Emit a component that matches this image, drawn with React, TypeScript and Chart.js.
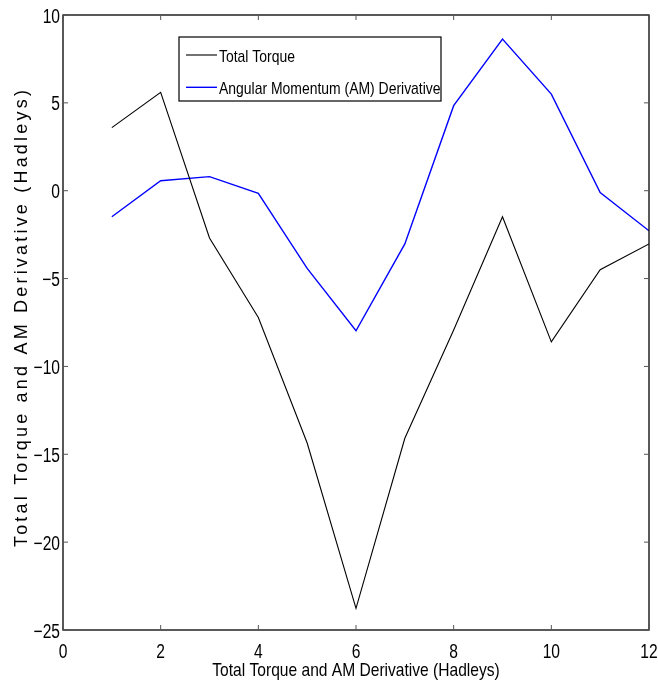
import React, { useEffect, useRef } from "react";
import { Chart, registerables } from "chart.js";

Chart.register(...registerables);

// Time steps along the horizontal axis
const steps = [1, 2, 3, 4, 5, 6, 7, 8, 9, 10, 11, 12];
// Total torque (Hadleys)
const totalTorque = [3.59, 5.6, -2.69, -7.22, -14.36, -23.77, -14.09, -7.93, -1.48, -8.6, -4.5, -3.03];
// Angular momentum derivative (Hadleys)
const amDerivative = [-1.48, 0.57, 0.8, -0.15, -4.42, -7.97, -3.03, 4.84, 8.63, 5.5, -0.11, -2.28];

const seriesNames = ["Total Torque", "Angular Momentum (AM) Derivative"];
const xTicks = [0, 2, 4, 6, 8, 10, 12];
const yTicks = [-25, -20, -15, -10, -5, 0, 5, 10];
const axisTitle = "Total Torque and AM Derivative (Hadleys)";

const FONT = "'Liberation Sans', Arial, sans-serif";

const fmt = (v: number) => (v < 0 ? "\u2212" + Math.abs(v) : String(v));

// Condensed text: draws with a horizontal squeeze so it reads like a narrow face
function narrowText(
  ctx: CanvasRenderingContext2D,
  text: string,
  x: number,
  y: number,
  size: number,
  align: CanvasTextAlign,
  squeeze = 0.8
) {
  ctx.save();
  ctx.translate(x, y);
  ctx.scale(squeeze, 1);
  ctx.font = `${size}px ${FONT}`;
  ctx.textAlign = align;
  ctx.textBaseline = "alphabetic";
  ctx.fillText(text, 0, 0);
  ctx.restore();
}

const framePlugin = {
  id: "frame",
  afterDraw(chart: any) {
    const { ctx, chartArea: a, scales } = chart;
    const xs = scales.x;
    const ys = scales.y;
    ctx.save();

    // axes box
    ctx.strokeStyle = "#000";
    ctx.lineWidth = 1.3;
    ctx.strokeRect(a.left, a.top, a.right - a.left, a.bottom - a.top);

    // inward tick marks on all four sides
    const tl = 5;
    ctx.lineWidth = 1;
    ctx.strokeStyle = "#555";
    ctx.beginPath();
    xTicks.forEach((v) => {
      const px = xs.getPixelForValue(v);
      ctx.moveTo(px, a.bottom);
      ctx.lineTo(px, a.bottom - tl);
      ctx.moveTo(px, a.top);
      ctx.lineTo(px, a.top + tl);
    });
    yTicks.forEach((v) => {
      const py = ys.getPixelForValue(v);
      ctx.moveTo(a.left, py);
      ctx.lineTo(a.left + tl, py);
      ctx.moveTo(a.right, py);
      ctx.lineTo(a.right - tl, py);
    });
    ctx.stroke();

    // tick labels
    ctx.fillStyle = "#000";
    xTicks.forEach((v) => {
      narrowText(ctx, fmt(v), xs.getPixelForValue(v), a.bottom + 28, 20, "center", 0.78);
    });
    yTicks.forEach((v) => {
      narrowText(ctx, fmt(v), a.left - 3, ys.getPixelForValue(v) + 7.5, 20, "right", 0.78);
    });

    // x axis title
    narrowText(ctx, axisTitle, (a.left + a.right) / 2, 676, 19, "center", 0.82);

    // y axis title, rotated, with wide letter spacing
    ctx.save();
    ctx.translate(27, 317);
    ctx.rotate(-Math.PI / 2);
    ctx.font = `18px ${FONT}`;
    (ctx as any).letterSpacing = "3.2px";
    ctx.textAlign = "center";
    ctx.textBaseline = "alphabetic";
    ctx.fillText(axisTitle, 0, 0);
    ctx.restore();

    // legend box
    const bx = 179, by = 37, bw = 262, bh = 64;
    ctx.fillStyle = "#fff";
    ctx.fillRect(bx, by, bw, bh);
    ctx.strokeStyle = "#000";
    ctx.lineWidth = 1.2;
    ctx.strokeRect(bx, by, bw, bh);
    chart.data.datasets.forEach((ds: any, i: number) => {
      const ry = 55 + i * 32.3;
      ctx.strokeStyle = ds.borderColor;
      ctx.lineWidth = ds.borderWidth;
      ctx.beginPath();
      ctx.moveTo(186, ry);
      ctx.lineTo(217, ry);
      ctx.stroke();
      ctx.fillStyle = "#000";
      narrowText(ctx, ds.label, 219, ry + 6.5, 17, "left", 0.82);
    });

    ctx.restore();
  },
};

export default function App() {
  const ref = useRef<HTMLCanvasElement | null>(null);

  useEffect(() => {
    document.body.style.margin = "0";
    const canvas = ref.current;
    if (!canvas) return;
    const chart = new Chart(canvas, {
      type: "line",
      data: {
        datasets: [
          {
            label: seriesNames[0],
            data: steps.map((x, i) => ({ x, y: totalTorque[i] })),
            borderColor: "#000000",
            borderWidth: 1.1,
            pointRadius: 0,
            tension: 0,
            fill: false,
          },
          {
            label: seriesNames[1],
            data: steps.map((x, i) => ({ x, y: amDerivative[i] })),
            borderColor: "#0000ff",
            borderWidth: 1.4,
            pointRadius: 0,
            tension: 0,
            fill: false,
          },
        ],
      },
      options: {
        responsive: false,
        animation: false,
        layout: { padding: { top: 15, right: 9, left: 0, bottom: 0 } },
        plugins: {
          legend: { display: false },
          tooltip: { enabled: false },
        },
        scales: {
          x: {
            type: "linear",
            min: 0,
            max: 12,
            afterBuildTicks: (s: any) => {
              s.ticks = xTicks.map((v) => ({ value: v }));
            },
            afterFit: (s: any) => {
              s.height = 61;
            },
            grid: { display: false, drawTicks: false },
            border: { display: false },
            ticks: { display: false },
          },
          y: {
            type: "linear",
            min: -25,
            max: 10,
            afterBuildTicks: (s: any) => {
              s.ticks = yTicks.map((v) => ({ value: v }));
            },
            afterFit: (s: any) => {
              s.width = 63;
            },
            grid: { display: false, drawTicks: false },
            border: { display: false },
            ticks: { display: false },
          },
        },
      },
      plugins: [framePlugin],
    });
    return () => chart.destroy();
  }, []);

  return <canvas ref={ref} width={658} height={691} style={{ display: "block" }} />;
}
